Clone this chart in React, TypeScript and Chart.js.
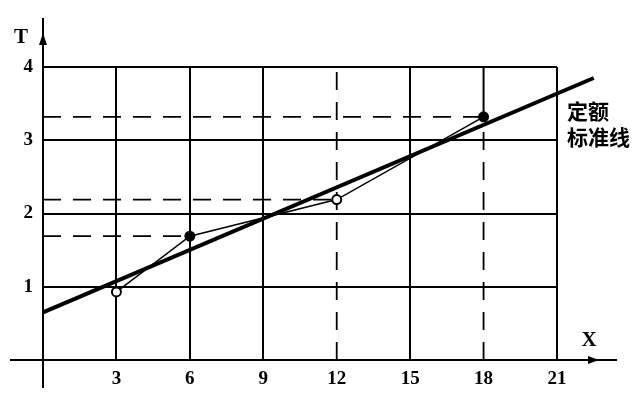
import React, { useEffect, useRef } from "react";
import { Chart, registerables } from "chart.js";

Chart.register(...registerables);

// ---- data ----
const xTickValues = [0, 3, 6, 9, 12, 15, 18, 21];
const yTickValues = [0, 1, 2, 3, 4];
const sampleX = [3, 6, 12, 18];
const sampleT = [0.93, 1.69, 2.19, 3.32];
const sampleFilled = [false, true, false, true];
const normX = [0, 22.5];
const normT = [0.65, 3.85];
const guideHorizontalX = [6, 12, 18];
const dashedGridX = [12, 18];
const normLabel = ["定额", "标准线"];
const axisNames = { x: "X", y: "T" };

const SERIF = "'Liberation Serif', 'DejaVu Serif', serif";
const CJK = "'Noto Sans CJK SC', sans-serif";

const axesPlugin = {
  id: "axesArrows",
  afterDraw(chart: any) {
    const { ctx, scales } = chart;
    const xs = scales.x;
    const ys = scales.y;
    const x0 = xs.getPixelForValue(0);
    const y0 = ys.getPixelForValue(0);
    const xEnd = xs.getPixelForValue(21) + 60;
    const yTop = ys.getPixelForValue(4) - 49;
    ctx.save();
    ctx.strokeStyle = "#000";
    ctx.fillStyle = "#000";
    ctx.lineWidth = 2;
    // x axis
    ctx.beginPath();
    ctx.moveTo(x0 - 33, y0);
    ctx.lineTo(xEnd, y0);
    ctx.stroke();
    // y axis
    ctx.beginPath();
    ctx.moveTo(x0, y0 + 28);
    ctx.lineTo(x0, yTop);
    ctx.stroke();
    // x arrow
    const ax = xEnd - 18;
    ctx.beginPath();
    ctx.moveTo(ax, y0);
    ctx.lineTo(ax - 11, y0 - 4);
    ctx.lineTo(ax - 11, y0 + 4);
    ctx.closePath();
    ctx.fill();
    // y arrow
    const ay = yTop + 15;
    ctx.beginPath();
    ctx.moveTo(x0, ay);
    ctx.lineTo(x0 - 4, ay + 12);
    ctx.lineTo(x0 + 4, ay + 12);
    ctx.closePath();
    ctx.fill();
    // axis names
    ctx.font = `bold 21px ${SERIF}`;
    ctx.textAlign = "center";
    ctx.textBaseline = "middle";
    ctx.fillText(axisNames.x, xEnd - 28, y0 - 19);
    ctx.fillText(axisNames.y, x0 - 22, yTop + 20);
    // norm label
    ctx.font = `bold 21px ${CJK}`;
    ctx.textAlign = "left";
    const lx = xs.getPixelForValue(21) + 10;
    ctx.fillText(normLabel[0], lx, ys.getPixelForValue(3.4));
    ctx.fillText(normLabel[1], lx, ys.getPixelForValue(3.05));
    ctx.restore();
  },
};

export default function App() {
  const ref = useRef<HTMLCanvasElement>(null);

  useEffect(() => {
    if (!ref.current) return;
    const datasets: any[] = [];

    // thin line through observed samples
    datasets.push({
      data: sampleX.map((x, i) => ({ x, y: sampleT[i] })),
      borderColor: "#000",
      borderWidth: 1.5,
      pointRadius: 4.5,
      pointBorderWidth: 2,
      pointBorderColor: "#000",
      pointBackgroundColor: sampleFilled.map((f) => (f ? "#000" : "#fff")),
      order: 0,
      clip: false,
    });
    // thick standard line
    datasets.push({
      data: normX.map((x, i) => ({ x, y: normT[i] })),
      borderColor: "#000",
      borderWidth: 4,
      pointRadius: 0,
      order: 1,
      clip: false,
    });
    // dashed horizontal guides
    guideHorizontalX.forEach((gx) => {
      const i = sampleX.indexOf(gx);
      datasets.push({
        data: [
          { x: 0, y: sampleT[i] },
          { x: gx, y: sampleT[i] },
        ],
        borderColor: "#000",
        borderWidth: 1.8,
        borderDash: [18, 12],
        pointRadius: 0,
        order: 5,
      });
    });
    // dashed vertical grid lines
    dashedGridX.forEach((gx) => {
      const i = sampleX.indexOf(gx);
      const isLast = gx === 18;
      datasets.push({
        data: [
          { x: gx, y: 0 },
          { x: gx, y: isLast ? sampleT[i] : 4 },
        ],
        borderColor: "#000",
        borderWidth: 1.8,
        borderDash: [18, 12],
        pointRadius: 0,
        order: 6,
      });
      if (isLast) {
        datasets.push({
          data: [
            { x: gx, y: sampleT[i] },
            { x: gx, y: 4 },
          ],
          borderColor: "#000",
          borderWidth: 2,
          pointRadius: 0,
          order: 6,
        });
      }
    });

    const chart = new Chart(ref.current, {
      type: "line",
      data: { datasets },
      options: {
        responsive: false,
        animation: false,
        events: [],
        layout: { padding: { top: 67, right: 83, left: 0, bottom: 0 } },
        plugins: { legend: { display: false }, tooltip: { enabled: false } },
        elements: { line: { tension: 0 } },
        scales: {
          x: {
            type: "linear",
            min: 0,
            max: 21,
            afterBuildTicks: (s: any) => {
              s.ticks = xTickValues.map((v) => ({ value: v }));
            },
            afterFit: (s: any) => {
              s.height = 48;
            },
            ticks: {
              padding: 8,
              color: "#000",
              font: { family: SERIF, size: 19, weight: "bold" },
              callback: (v: any) => (v === 0 ? "" : String(v)),
              maxRotation: 0,
              autoSkip: false,
            },
            grid: {
              color: (c: any) =>
                c.tick && dashedGridX.includes(c.tick.value) ? "rgba(0,0,0,0)" : "#000",
              lineWidth: 2,
              drawTicks: false,
            },
            border: { display: false },
          },
          y: {
            type: "linear",
            min: 0,
            max: 4,
            afterBuildTicks: (s: any) => {
              s.ticks = yTickValues.map((v) => ({ value: v }));
            },
            afterFit: (s: any) => {
              s.width = 43;
            },
            ticks: {
              padding: 10,
              color: "#000",
              font: { family: SERIF, size: 19, weight: "bold" },
              callback: (v: any) => (v === 0 ? "" : String(v)),
              autoSkip: false,
            },
            grid: { color: "#000", lineWidth: 2, drawTicks: false },
            border: { display: false },
          },
        },
      },
      plugins: [axesPlugin],
    });
    return () => chart.destroy();
  }, []);

  return (
    <div style={{ position: "fixed", left: 0, top: 0, width: 640, height: 408, background: "#fff" }}>
      <canvas ref={ref} width={640} height={408} style={{ display: "block" }} />
    </div>
  );
}
